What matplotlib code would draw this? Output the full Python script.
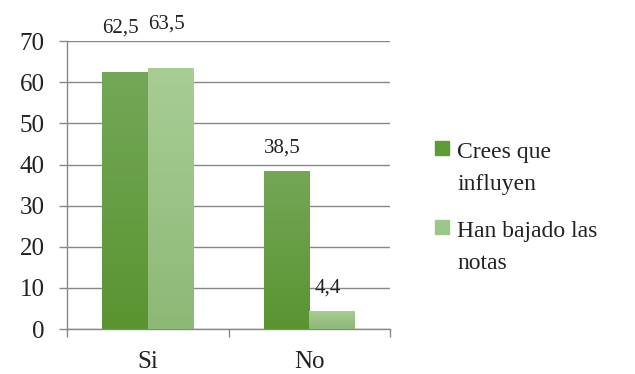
import matplotlib
matplotlib.use("Agg")
import matplotlib.pyplot as plt
import numpy as np
from matplotlib.colors import LinearSegmentedColormap
from matplotlib.patches import Rectangle

categories = ["Si", "No"]
series_names = ["Crees que\ninfluyen", "Han bajado las\nnotas"]
crees = [62.5, 38.5]
bajado = [63.5, 4.4]
value_labels = [["62,5", "38,5"], ["63,5", "4,4"]]
yticks = [0, 10, 20, 30, 40, 50, 60, 70]

plt.rcParams['font.family'] = ['Liberation Serif', 'DejaVu Serif']

W, H = 635, 374
fig = plt.figure(figsize=(6.35, 3.74), dpi=100)
ax = fig.add_axes([0.1055, 0.12, 0.509, 0.77])

x = np.arange(len(categories))
w = 0.284
series = [crees, bajado]
grads = [("#74a758", "#5a9430"), ("#a8cd95", "#8cb976")]
legend_cols = ["#5e9a36", "#9cc78a"]
label_off_px = [44, 23]

for si, vals in enumerate(series):
    xs = x + (si - 0.5) * w
    bars = ax.bar(xs, vals, width=w, color=legend_cols[si], zorder=3,
                  label=series_names[si])
    cmap = LinearSegmentedColormap.from_list("g", [grads[si][1], grads[si][0]])
    for b in bars:
        bx, by = b.get_x(), b.get_y()
        bw, bh = b.get_width(), b.get_height()
        grad = np.linspace(0, 1, 256).reshape(-1, 1)
        im = ax.imshow(grad, extent=[bx, bx + bw, by, by + bh], origin="lower",
                       cmap=cmap, aspect="auto", zorder=3.5)
        im.set_clip_path(b)
    for i, (xx, v) in enumerate(zip(xs, vals)):
        ax.annotate(value_labels[si][i], (xx, v), xytext=(-3, label_off_px[i] * 0.72),
                    textcoords="offset points", ha="center", va="center",
                    fontsize=15, color="#222222", annotation_clip=False)

ax.set_xlim(-0.5, 1.5)
ax.set_ylim(0, 70)
ax.set_yticks(yticks)
ax.set_yticklabels([str(t) for t in yticks], fontsize=18, color="#222222")
ax.set_xticks(x)
ax.set_xticklabels(categories, fontsize=18, color="#222222")
ax.set_xticks([-0.5, 0.5, 1.5], minor=True)
ax.tick_params(axis="x", which="major", length=0, pad=16)
ax.tick_params(axis="x", which="minor", length=6, color="#888888", width=1)
ax.tick_params(axis="y", length=6, color="#888888", width=1, pad=10)
ax.grid(axis="y", color="#888888", linewidth=1, zorder=0)
ax.set_axisbelow(True)
for s in ["top", "right"]:
    ax.spines[s].set_visible(False)
for s in ["left", "bottom"]:
    ax.spines[s].set_color("#888888")
    ax.spines[s].set_linewidth(1)

# legend drawn manually so the square sits beside the first line of text
item_top = [158, 237]  # baseline of first line, px from top
for k, name in enumerate(series_names):
    sq_cy = item_top[k] - 10
    fig.patches.append(Rectangle(((435) / W, 1 - (sq_cy + 7) / H), 14 / W, 14 / H,
                                 transform=fig.transFigure, color=legend_cols[k]))
    for j, line in enumerate(name.split("\n")):
        fig.text(457 / W, 1 - (item_top[k] + j * 32) / H, line, fontsize=17,
                 color="#222222", ha="left", va="baseline")

fig.savefig("out.png", dpi=100)
